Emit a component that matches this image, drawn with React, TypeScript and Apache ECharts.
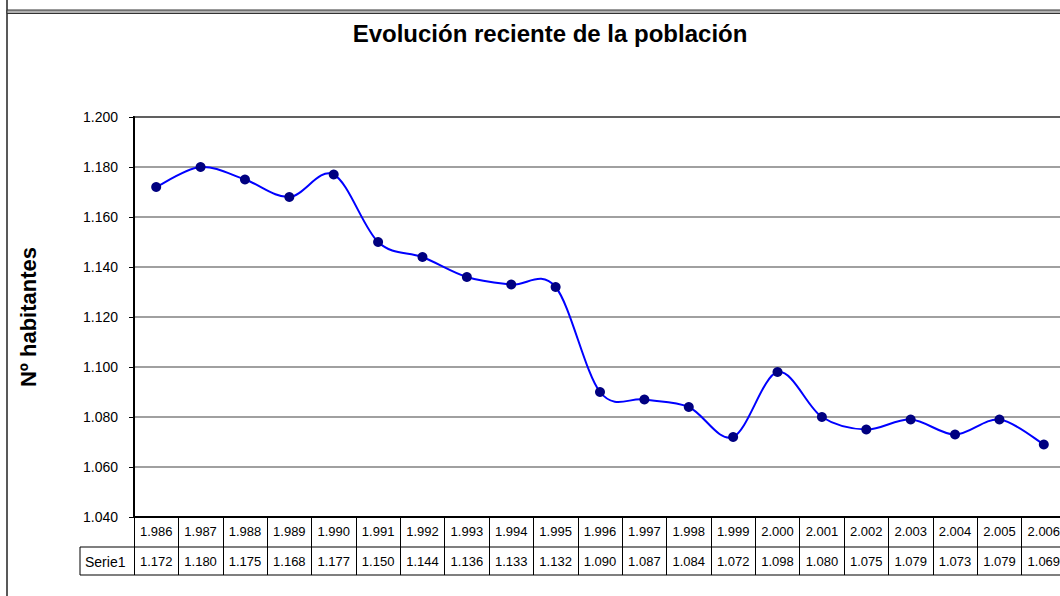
import React, { useEffect, useRef } from "react";
import * as echarts from "echarts";

const years = ["1.986","1.987","1.988","1.989","1.990","1.991","1.992","1.993","1.994","1.995","1.996","1.997","1.998","1.999","2.000","2.001","2.002","2.003","2.004","2.005","2.006"];
const serie1 = [1172, 1180, 1175, 1168, 1177, 1150, 1144, 1136, 1133, 1132, 1090, 1087, 1084, 1072, 1098, 1080, 1075, 1079, 1073, 1079, 1069];
const yMin = 1040;
const yMax = 1200;
const yStep = 20;
const title = "Evolución reciente de la población";
const yName = "Nº habitantes";
const seriesName = "Serie1";

const fmt = (n: number) => `${Math.floor(n / 1000)}.${String(Math.round(n) % 1000).padStart(3, "0")}`;

const FONT = "'Liberation Sans', Arial, sans-serif";

export default function App() {
  const ref = useRef<HTMLDivElement>(null);
  useEffect(() => {
    if (!ref.current) return;
    const chart = echarts.init(ref.current, undefined, { renderer: "svg" });
    const n = serie1.length;
    const renderCurve = (params: any, api: any) => {
      const i = params.dataIndex;
      if (i >= n - 1) return null;
      const pt = (k: number) => {
        const kk = Math.max(0, Math.min(n - 1, k));
        return api.coord([kk, serie1[kk]]);
      };
      const p0 = pt(i - 1);
      const p1 = pt(i);
      const p2 = pt(i + 1);
      const p3 = pt(i + 2);
      const t = 1 / 6;
      return {
        type: "bezierCurve",
        shape: {
          x1: p1[0],
          y1: p1[1],
          cpx1: p1[0] + (p2[0] - p0[0]) * t,
          cpy1: p1[1] + (p2[1] - p0[1]) * t,
          cpx2: p2[0] - (p3[0] - p1[0]) * t,
          cpy2: p2[1] - (p3[1] - p1[1]) * t,
          x2: p2[0],
          y2: p2[1],
        },
        style: { stroke: "#0000FF", lineWidth: 2, fill: "none" },
      };
    };
    chart.setOption({
      animation: false,
      backgroundColor: "#fff",
      title: {
        text: title,
        left: 545,
        top: 16,
        textAlign: "center",
        textStyle: { fontFamily: FONT, fontSize: 24, fontWeight: "bold", color: "#000" },
      },
      grid: {
        left: 134,
        top: 117,
        width: 932,
        height: 400,
        show: true,
        borderColor: "#000",
        borderWidth: 2,
        backgroundColor: "transparent",
      },
      xAxis: [
        {
          type: "category",
          data: years,
          boundaryGap: true,
          position: "bottom",
          axisLine: { show: true, lineStyle: { color: "#000", width: 2 } },
          axisTick: { show: true, interval: 0, length: 58, lineStyle: { color: "#000", width: 1 } },
          axisLabel: { interval: 0, margin: 8, fontSize: 13, color: "#000", fontFamily: FONT },
          splitLine: { show: false },
        },
        {
          type: "category",
          data: serie1.map(fmt),
          boundaryGap: true,
          position: "bottom",
          gridIndex: 0,
          axisLine: { show: false },
          axisTick: { show: false },
          axisLabel: { interval: 0, margin: 38, fontSize: 13, color: "#000", fontFamily: FONT },
          splitLine: { show: false },
        },
      ],
      yAxis: {
        type: "value",
        min: yMin,
        max: yMax,
        interval: yStep,
        name: yName,
        nameLocation: "middle",
        nameGap: 95,
        nameTextStyle: { fontFamily: FONT, fontSize: 22, fontWeight: "bold", color: "#000" },
        axisLine: { show: true, lineStyle: { color: "#000", width: 2 } },
        axisTick: { show: true, length: 5, lineStyle: { color: "#000", width: 1 } },
        axisLabel: { formatter: (v: number) => fmt(v), fontSize: 14, margin: 16, color: "#000", fontFamily: FONT },
        splitLine: { show: true, lineStyle: { color: "#808080", width: 1.5 } },
      },
      series: [
        {
          name: seriesName + " curve",
          type: "custom",
          xAxisIndex: 0,
          data: serie1.map((v, i) => [i, v]),
          encode: { x: 0, y: 1 },
          renderItem: renderCurve,
          z: 2,
          silent: true,
        },
        {
          name: seriesName,
          type: "line",
          xAxisIndex: 0,
          data: serie1,
          symbol: "circle",
          symbolSize: 10,
          lineStyle: { width: 0, opacity: 0 },
          itemStyle: { color: "#000080" },
          z: 3,
        },
      ],
      graphic: [
        { type: "line", shape: { x1: 7, y1: 0, x2: 7, y2: 596 }, style: { stroke: "#222", lineWidth: 1.5 } },
        { type: "rect", shape: { x: 7, y: 10, width: 1080, height: 3.5 }, style: { fill: "#b0b0b0", stroke: "#333", lineWidth: 1 } },
        { type: "line", shape: { x1: 80, y1: 547, x2: 1080, y2: 547 }, style: { stroke: "#555", lineWidth: 1.5 } },
        { type: "line", shape: { x1: 80, y1: 575, x2: 1080, y2: 575 }, style: { stroke: "#555", lineWidth: 1.5 } },
        { type: "line", shape: { x1: 80, y1: 547, x2: 80, y2: 575 }, style: { stroke: "#000", lineWidth: 1 } },
        {
          type: "text",
          x: 85,
          y: 562,
          style: { text: seriesName, fontFamily: FONT, fontSize: 14, fill: "#000", textVerticalAlign: "middle", textAlign: "left" },
        },
      ],
    });
    return () => chart.dispose();
  }, []);
  return (
    <div style={{ position: "absolute", left: 0, top: 0, width: 1060, height: 596, overflow: "hidden" }}>
      <div ref={ref} style={{ width: 1080, height: 596 }} />
    </div>
  );
}
